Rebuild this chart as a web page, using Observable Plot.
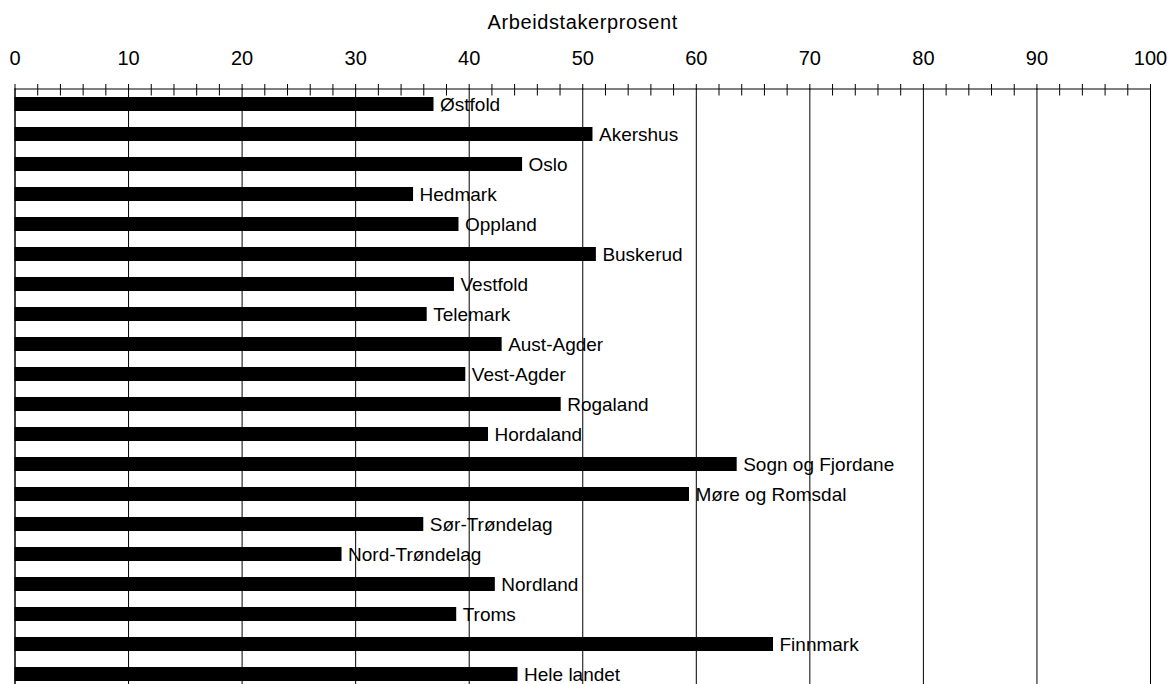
<!DOCTYPE html>
<html><head><meta charset="utf-8">
<script src="https://cdn.jsdelivr.net/npm/d3@7"></script>
<script src="https://cdn.jsdelivr.net/npm/@observablehq/plot@0.6"></script>
<style>
html,body{margin:0;padding:0;background:#fff;overflow:hidden}
g[aria-label="x-axis label"] text{letter-spacing:0.6px}
</style>
</head><body><div id="chart"></div>
<script>
const fylker = ["Østfold","Akershus","Oslo","Hedmark","Oppland","Buskerud","Vestfold","Telemark","Aust-Agder","Vest-Agder","Rogaland","Hordaland","Sogn og Fjordane","Møre og Romsdal","Sør-Trøndelag","Nord-Trøndelag","Nordland","Troms","Finnmark","Hele landet"];
const prosent = [36.9,50.9,44.7,35.1,39.1,51.2,38.7,36.3,42.9,39.7,48.1,41.7,63.6,59.4,36.0,28.8,42.3,38.9,66.8,44.3];
const majorTicks = [0,10,20,30,40,50,60,70,80,90,100];
const minorTicks = [2,4,6,8,12,14,16,18,22,24,26,28,32,34,36,38,42,44,46,48,52,54,56,58,62,64,66,68,72,74,76,78,82,84,86,88,92,94,96,98];
const axisTitle = "Arbeidstakerprosent";

const data = fylker.map((f, i) => ({fylke: f, verdi: prosent[i]}));

const chart = Plot.plot({
  width: 1172, height: 690,
  marginTop: 88.5, marginBottom: 0.5, marginLeft: 14.5, marginRight: 22,
  style: {fontFamily: "'Liberation Sans', Arial, sans-serif", fontSize: "19px", color: "#000", background: "#fff"},
  x: {domain: [0, 100]},
  y: {domain: fylker, paddingInner: 0.534, paddingOuter: 0.267, axis: null},
  marks: [
    Plot.gridX(majorTicks, {stroke: "#000", strokeOpacity: 1, strokeWidth: 1}),
    Plot.frame({stroke: "#000"}),
    Plot.axisX(majorTicks, {anchor: "top", tickSize: 5.5, tickPadding: 19, fontSize: 20, label: axisTitle, labelAnchor: "center", labelArrow: "none", labelOffset: 74}),
    Plot.axisX(minorTicks, {anchor: "top", tickSize: 5.5, tickFormat: () => "", label: null}),
    Plot.axisX(minorTicks, {anchor: "top", tickSize: -6, tickFormat: () => "", label: null}),
    Plot.barX(data, {x: "verdi", y: "fylke", fill: "#000"}),
    Plot.text(data, {x: "verdi", y: "fylke", text: "fylke", textAnchor: "start", dx: 6, fill: "#000", fontSize: 19})
  ]
});
document.getElementById("chart").append(chart);
</script>
</body></html>
